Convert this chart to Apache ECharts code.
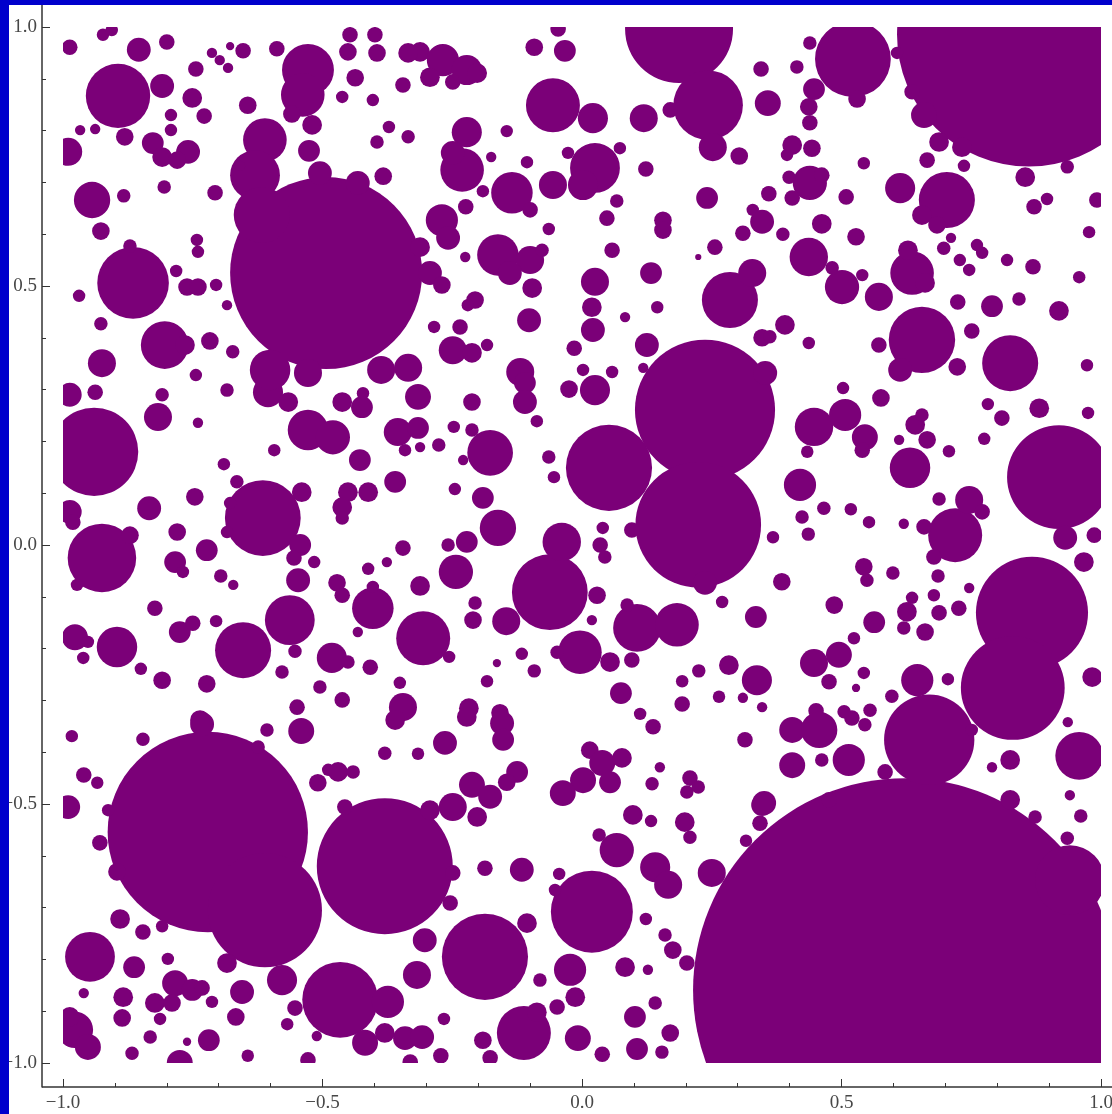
<!DOCTYPE html>
<html>
<head>
<meta charset="utf-8">
<script src="https://cdn.jsdelivr.net/npm/echarts@6/dist/echarts.min.js"></script>
<style>
  html, body { margin: 0; padding: 0; background: #ffffff; }
  #chart { width: 1112px; height: 1114px; }
</style>
</head>
<body>
<div id="chart"></div>
<script>
// Tick positions shared by both axes
const axisTicks = [-1, -0.5, 0, 0.5, 1];

// Discs as [x, y, radius] in plot units; the union of all discs is drawn.
const discsPrimary = [
  [-0.493,0.525,0.185],[0.861,0.985,0.254],[0.522,0.938,0.073],[0.187,0.996,0.104],
  [0.243,0.849,0.067],[0.119,0.824,0.027],[0.252,0.768,0.027],[0.303,0.751,0.017],
  [0.170,0.840,0.015],[-0.940,0.180,0.085],[-0.987,0.290,0.023],[-0.987,0.064,0.023],
  [-0.981,0.044,0.015],[0.052,0.149,0.083],[0.237,0.261,0.135],[0.224,0.039,0.121],
  [0.025,0.299,0.029],[0.919,0.131,0.100],[0.881,0.264,0.019],[0.975,0.255,0.012],
  [0.867,-0.131,0.108],[0.830,-0.276,0.100],[0.622,-0.859,0.408],[0.669,-0.376,0.087],
  [0.958,-0.407,0.046],[0.940,-0.647,0.067],[-0.721,-0.554,0.193],[-0.611,-0.705,0.110],
  [-0.380,-0.620,0.131],[-0.466,-0.878,0.073],[-0.374,-0.882,0.031],[-0.187,-0.795,0.083],
  [-0.062,-0.091,0.073],[-0.039,0.006,0.037],[-0.146,-0.147,0.027],[0.019,-0.708,0.079],
  [-0.023,-0.820,0.031],[-0.112,-0.942,0.052],[-0.008,-0.952,0.025],[-0.615,0.052,0.073],
  [-0.925,-0.025,0.066],[-0.948,-0.795,0.048],[-0.563,-0.145,0.048],[-0.653,-0.203,0.054],
  [-0.306,-0.180,0.052],[-0.403,-0.122,0.040],[-0.894,0.867,0.062],[-0.528,0.917,0.050],
  [-0.538,0.869,0.042],[-0.865,0.506,0.069],[-0.804,0.386,0.046],[-0.056,0.849,0.052],
  [0.285,0.473,0.054],[0.655,0.396,0.064],[0.825,0.351,0.054],[0.703,0.666,0.054],
  [0.636,0.525,0.042],[0.719,0.019,0.052],[0.632,0.149,0.039],[0.106,-0.160,0.046],
  [0.183,-0.154,0.042],[-0.004,-0.207,0.042],[-0.162,0.033,0.035],[-0.177,0.178,0.044],
  [-0.243,-0.052,0.033],[-0.135,0.680,0.040],[0.025,0.728,0.048],[-0.231,0.724,0.042],
  [-0.162,0.560,0.040]
];

const discsSecondary = [
  [0.646,-0.261,0.031],[0.420,0.116,0.031],[0.447,0.228,0.037],[0.507,0.251,0.031],
  [0.439,0.699,0.033],[0.437,0.556,0.037],[0.501,0.498,0.033],[0.613,0.689,0.029],
  [-0.222,0.797,0.029],[0.021,0.824,0.029],[0.447,-0.228,0.027],[0.495,-0.212,0.025],
  [0.067,-0.589,0.033],[0.141,-0.622,0.029],[0.166,-0.656,0.027],[0.250,-0.633,0.027],
  [-0.896,-0.197,0.039],[-0.977,-0.178,0.025],[-0.482,-0.218,0.029],[-0.345,-0.313,0.027],
  [-0.528,0.222,0.039],[-0.480,0.208,0.033],[-0.817,0.247,0.027],[-0.834,0.071,0.023],
  [-0.355,0.218,0.027],[-0.316,0.286,0.025],[-0.316,0.226,0.021],[-0.605,0.295,0.029],
  [-0.601,0.338,0.039],[-0.528,0.332,0.027],[-0.387,0.338,0.027],[-0.335,0.342,0.027],
  [-0.944,0.666,0.035],[-0.925,0.351,0.027],[-0.854,0.956,0.023],[-0.809,0.886,0.023],
  [-0.611,0.782,0.042],[-0.630,0.714,0.048],[-0.617,0.637,0.054],[-0.644,0.849,0.017],
  [-0.092,0.961,0.017],[-0.033,0.954,0.021],[-0.046,0.996,0.015],[-0.312,0.952,0.019],
  [-0.268,0.936,0.031],[-0.222,0.917,0.029],[-0.202,0.911,0.019],[-0.293,0.903,0.019],
  [-0.249,0.894,0.015],[-0.335,0.950,0.019],[-0.987,0.961,0.015],[-0.923,0.985,0.012],
  [-0.906,0.994,0.012],[-0.800,0.971,0.015],[-0.744,0.919,0.015],[-0.713,0.950,0.010],
  [-0.698,0.936,0.010],[-0.682,0.921,0.010],[-0.678,0.963,0.008],[-0.653,0.954,0.015],
  [-0.588,0.958,0.015],[-0.559,0.832,0.017],[-0.447,0.985,0.015],[-0.399,0.985,0.015],
  [-0.451,0.952,0.017],[-0.395,0.950,0.017],[-0.437,0.902,0.017],[-0.345,0.888,0.015],
  [-0.462,0.865,0.012],[-0.403,0.859,0.012],[-0.751,0.863,0.019],[-0.728,0.828,0.015],
  [-0.792,0.830,0.012],[-0.792,0.801,0.012],[-0.881,0.788,0.017],[-0.967,0.801,0.010],
  [-0.938,0.803,0.010],[-0.990,0.759,0.027],[-0.827,0.776,0.021],[-0.809,0.749,0.019],
  [-0.759,0.759,0.023],[-0.780,0.743,0.017],[-0.520,0.811,0.019],[-0.526,0.761,0.021],
  [-0.659,0.732,0.010],[-0.383,0.712,0.017],[-0.372,0.807,0.012],[-0.395,0.778,0.013],
  [-0.335,0.788,0.013],[-0.883,0.674,0.013],[-0.805,0.691,0.013],[-0.707,0.680,0.015],
  [-0.927,0.606,0.017],[-0.742,0.589,0.012],[-0.740,0.566,0.012],[-0.871,0.577,0.013],
  [-0.782,0.529,0.012],[-0.761,0.498,0.017],[-0.740,0.498,0.017],[-0.705,0.502,0.012],
  [-0.969,0.481,0.012],[-0.684,0.463,0.010],[-0.927,0.427,0.013],[-0.717,0.394,0.017],
  [-0.673,0.373,0.013],[-0.765,0.386,0.019],[-0.744,0.328,0.012],[-0.505,0.718,0.023],
  [-0.432,0.699,0.023],[-0.293,0.525,0.023],[-0.270,0.502,0.017],[-0.312,0.575,0.019],
  [0.345,0.919,0.015],[0.358,0.853,0.025],[-0.145,0.799,0.012],[-0.249,0.757,0.023],
  [-0.175,0.749,0.010],[-0.106,0.739,0.012],[-0.191,0.683,0.012],[-0.100,0.647,0.015],
  [-0.224,0.653,0.015],[-0.056,0.695,0.027],[0.002,0.695,0.029],[0.073,0.766,0.012],
  [-0.027,0.757,0.012],[0.123,0.726,0.015],[0.241,0.670,0.021],[0.067,0.664,0.013],
  [0.048,0.631,0.015],[-0.270,0.627,0.031],[-0.258,0.593,0.023],[-0.064,0.610,0.012],
  [0.156,0.627,0.017],[0.156,0.608,0.017],[0.329,0.647,0.012],[0.347,0.624,0.023],
  [0.310,0.602,0.015],[0.358,0.680,0.012],[0.256,0.575,0.015],[0.224,0.556,0.006],
  [0.058,0.569,0.015],[-0.225,0.556,0.010],[-0.100,0.550,0.027],[-0.077,0.569,0.013],
  [-0.139,0.525,0.023],[-0.096,0.496,0.019],[0.025,0.508,0.027],[0.019,0.459,0.019],
  [0.021,0.415,0.023],[0.133,0.525,0.021],[0.145,0.459,0.012],[0.083,0.440,0.010],
  [-0.206,0.473,0.017],[-0.220,0.463,0.012],[-0.102,0.434,0.023],[-0.285,0.421,0.012],
  [-0.235,0.421,0.015],[-0.249,0.376,0.027],[-0.212,0.371,0.019],[-0.183,0.386,0.012],
  [-0.015,0.380,0.015],[0.125,0.386,0.023],[0.328,0.525,0.027],[0.347,0.400,0.017],
  [-0.119,0.334,0.027],[0.002,0.338,0.012],[0.058,0.334,0.012],[0.118,0.342,0.010],
  [0.439,0.969,0.013],[0.414,0.923,0.013],[0.447,0.880,0.021],[0.437,0.846,0.017],
  [0.439,0.815,0.015],[0.530,0.861,0.017],[0.607,0.950,0.012],[0.636,0.875,0.015],
  [0.659,0.830,0.025],[0.688,0.778,0.019],[0.732,0.768,0.019],[0.854,0.710,0.019],
  [0.935,0.730,0.013],[0.665,0.743,0.015],[0.736,0.732,0.012],[0.405,0.772,0.019],
  [0.443,0.766,0.017],[0.395,0.753,0.012],[0.543,0.737,0.012],[0.399,0.710,0.013],
  [0.405,0.670,0.015],[0.462,0.714,0.015],[0.360,0.678,0.015],[0.509,0.672,0.015],
  [0.655,0.637,0.019],[0.684,0.618,0.017],[0.871,0.653,0.015],[0.896,0.668,0.012],
  [0.992,0.666,0.015],[0.462,0.620,0.019],[0.387,0.600,0.013],[0.528,0.595,0.017],
  [0.977,0.604,0.012],[0.697,0.573,0.013],[0.711,0.593,0.010],[0.761,0.579,0.012],
  [0.771,0.564,0.012],[0.728,0.550,0.012],[0.746,0.531,0.012],[0.540,0.521,0.012],
  [0.482,0.535,0.013],[0.819,0.550,0.012],[0.869,0.537,0.015],[0.958,0.517,0.012],
  [0.628,0.569,0.019],[0.572,0.479,0.027],[0.661,0.506,0.019],[0.724,0.469,0.015],
  [0.790,0.461,0.021],[0.842,0.475,0.013],[0.919,0.452,0.019],[0.391,0.425,0.019],
  [0.362,0.402,0.013],[0.437,0.390,0.012],[0.572,0.386,0.015],[0.723,0.344,0.017],
  [0.973,0.347,0.012],[0.353,0.332,0.023],[0.751,0.413,0.015],[-0.938,0.295,0.015],
  [-0.809,0.290,0.013],[-0.740,0.236,0.010],[-0.684,0.299,0.013],[-0.690,0.156,0.012],
  [-0.593,0.183,0.012],[-0.566,0.276,0.019],[-0.462,0.276,0.019],[-0.424,0.266,0.021],
  [-0.422,0.293,0.012],[-0.341,0.183,0.012],[-0.428,0.164,0.021],[-0.360,0.122,0.021],
  [-0.451,0.102,0.019],[-0.412,0.102,0.019],[-0.462,0.073,0.019],[-0.462,0.052,0.013],
  [-0.746,0.093,0.017],[-0.665,0.122,0.013],[-0.540,0.102,0.019],[-0.678,0.081,0.012],
  [-0.684,0.025,0.012],[-0.543,0.000,0.021],[-0.555,-0.025,0.015],[-0.547,-0.068,0.023],
  [-0.516,-0.033,0.012],[-0.780,0.025,0.017],[-0.723,-0.010,0.021],[-0.784,-0.033,0.021],
  [-0.769,-0.052,0.012],[-0.696,-0.060,0.013],[-0.672,-0.077,0.010],[-0.871,0.019,0.017],
  [-0.973,-0.077,0.012],[-0.472,-0.073,0.017],[-0.462,-0.097,0.015],[-0.432,-0.168,0.010],
  [-0.403,-0.081,0.012],[-0.345,-0.006,0.015],[-0.412,-0.046,0.012],[-0.376,-0.033,0.010],
  [-0.553,-0.205,0.013],[-0.823,-0.122,0.015],[-0.775,-0.168,0.021],[-0.750,-0.151,0.015],
  [-0.705,-0.147,0.012],[-0.952,-0.187,0.012],[-0.961,-0.218,0.012],[-0.850,-0.239,0.012],
  [-0.809,-0.261,0.017],[-0.723,-0.268,0.017],[-0.578,-0.245,0.013],[-0.451,-0.226,0.013],
  [-0.408,-0.236,0.015],[-0.505,-0.274,0.013],[-0.462,-0.299,0.015],[-0.549,-0.313,0.015],
  [-0.351,-0.266,0.012],[-0.736,-0.338,0.019],[-0.212,0.276,0.017],[-0.110,0.313,0.021],
  [-0.110,0.276,0.023],[-0.025,0.301,0.017],[-0.087,0.239,0.012],[-0.312,0.189,0.010],
  [-0.276,0.193,0.013],[-0.247,0.228,0.012],[-0.212,0.222,0.013],[-0.229,0.164,0.010],
  [-0.064,0.170,0.013],[-0.054,0.131,0.012],[-0.245,0.108,0.012],[-0.191,0.091,0.021],
  [-0.258,0.000,0.013],[-0.222,0.006,0.021],[-0.312,-0.079,0.019],[0.040,0.033,0.012],
  [0.035,0.000,0.015],[0.044,-0.023,0.013],[0.096,0.029,0.015],[-0.206,-0.112,0.013],
  [-0.210,-0.145,0.017],[-0.256,-0.216,0.012],[-0.164,-0.228,0.008],[-0.116,-0.210,0.012],
  [-0.092,-0.243,0.013],[-0.183,-0.263,0.012],[0.029,-0.097,0.017],[0.019,-0.145,0.010],
  [-0.048,-0.207,0.013],[0.054,-0.226,0.019],[0.087,-0.116,0.013],[0.096,-0.222,0.015],
  [0.237,-0.073,0.023],[0.270,-0.110,0.012],[0.335,-0.139,0.021],[0.075,-0.286,0.021],
  [0.193,-0.263,0.012],[0.225,-0.243,0.013],[0.283,-0.232,0.019],[0.193,-0.307,0.015],
  [0.264,-0.293,0.012],[0.337,-0.261,0.029],[0.310,-0.295,0.010],[0.347,-0.313,0.010],
  [-0.218,-0.315,0.019],[-0.158,-0.324,0.017],[0.112,-0.326,0.012],[0.503,0.303,0.012],
  [0.576,0.284,0.017],[0.613,0.338,0.023],[0.782,0.272,0.012],[0.809,0.245,0.015],
  [0.775,0.205,0.012],[0.545,0.208,0.025],[0.540,0.183,0.015],[0.434,0.180,0.012],
  [0.642,0.232,0.019],[0.655,0.251,0.013],[0.665,0.203,0.017],[0.611,0.203,0.010],
  [0.707,0.181,0.012],[0.424,0.054,0.013],[0.466,0.071,0.013],[0.518,0.069,0.012],
  [0.553,0.044,0.012],[0.436,0.021,0.013],[0.368,0.015,0.012],[0.620,0.041,0.010],
  [0.688,0.089,0.013],[0.746,0.087,0.027],[0.771,0.064,0.015],[0.659,0.035,0.015],
  [0.678,-0.023,0.015],[0.931,0.014,0.023],[0.987,0.019,0.015],[0.967,-0.033,0.019],
  [0.385,-0.071,0.017],[0.543,-0.042,0.017],[0.549,-0.068,0.013],[0.599,-0.054,0.013],
  [0.686,-0.060,0.013],[0.746,-0.083,0.010],[0.486,-0.116,0.017],[0.563,-0.149,0.021],
  [0.626,-0.129,0.019],[0.636,-0.102,0.012],[0.620,-0.160,0.013],[0.661,-0.168,0.017],
  [0.678,-0.097,0.012],[0.688,-0.131,0.015],[0.726,-0.122,0.015],[0.524,-0.180,0.012],
  [0.476,-0.264,0.015],[0.543,-0.247,0.012],[0.528,-0.276,0.008],[0.705,-0.259,0.012],
  [0.597,-0.292,0.013],[0.983,-0.255,0.019],[0.451,-0.320,0.015],[0.505,-0.322,0.013],
  [0.555,-0.319,0.013],[-0.983,-0.369,0.012],[-0.846,-0.375,0.013],[-0.732,-0.346,0.023],
  [-0.607,-0.357,0.013],[-0.541,-0.359,0.025],[-0.624,-0.390,0.013],[-0.960,-0.444,0.015],
  [-0.934,-0.459,0.012],[-0.990,-0.506,0.023],[-0.929,-0.575,0.015],[-0.913,-0.512,0.012],
  [-0.896,-0.631,0.017],[-0.509,-0.459,0.017],[-0.489,-0.434,0.012],[-0.470,-0.438,0.019],
  [-0.441,-0.438,0.013],[-0.457,-0.506,0.015],[-0.380,-0.402,0.013],[-0.360,-0.338,0.019],
  [-0.890,-0.722,0.019],[-0.846,-0.747,0.015],[-0.809,-0.736,0.012],[-0.863,-0.815,0.021],
  [-0.798,-0.799,0.012],[-0.960,-0.865,0.010],[-0.784,-0.846,0.025],[-0.751,-0.859,0.021],
  [-0.823,-0.884,0.019],[-0.790,-0.884,0.017],[-0.732,-0.855,0.015],[-0.884,-0.873,0.019],
  [-0.886,-0.913,0.017],[-0.713,-0.882,0.012],[-0.813,-0.915,0.012],[-0.667,-0.911,0.017],
  [-0.655,-0.863,0.023],[-0.578,-0.840,0.029],[-0.684,-0.807,0.019],[-0.977,-0.936,0.035],
  [-0.952,-0.969,0.025],[-0.987,-0.911,0.019],[-0.832,-0.950,0.013],[-0.867,-0.981,0.013],
  [-0.719,-0.956,0.021],[-0.761,-0.959,0.008],[-0.775,-1.000,0.025],[-0.644,-0.986,0.012],
  [-0.553,-0.894,0.015],[-0.568,-0.925,0.012],[-0.511,-0.948,0.010],[-0.418,-0.961,0.025],
  [-0.528,-0.994,0.015],[-0.380,-0.942,0.019],[-0.341,-0.952,0.023],[-0.331,-0.998,0.015],
  [-0.222,-0.332,0.019],[-0.154,-0.344,0.023],[-0.152,-0.376,0.021],[-0.264,-0.382,0.023],
  [-0.316,-0.403,0.012],[0.137,-0.351,0.015],[0.314,-0.376,0.015],[-0.125,-0.438,0.021],
  [-0.145,-0.458,0.017],[-0.212,-0.463,0.025],[-0.177,-0.486,0.023],[-0.249,-0.506,0.027],
  [-0.202,-0.525,0.019],[0.015,-0.396,0.017],[0.039,-0.421,0.025],[0.077,-0.411,0.019],
  [0.002,-0.454,0.025],[-0.037,-0.479,0.025],[0.054,-0.458,0.021],[0.150,-0.429,0.010],
  [0.135,-0.461,0.013],[0.208,-0.450,0.015],[0.224,-0.467,0.013],[0.202,-0.477,0.013],
  [0.098,-0.521,0.019],[0.133,-0.533,0.012],[0.198,-0.535,0.019],[0.208,-0.564,0.013],
  [0.316,-0.571,0.012],[0.347,-0.502,0.021],[0.343,-0.537,0.015],[0.033,-0.560,0.013],
  [-0.187,-0.624,0.015],[-0.116,-0.627,0.023],[-0.044,-0.635,0.012],[-0.052,-0.666,0.012],
  [0.123,-0.722,0.012],[0.160,-0.753,0.013],[0.175,-0.782,0.017],[0.202,-0.807,0.015],
  [0.083,-0.815,0.019],[0.127,-0.820,0.010],[-0.081,-0.840,0.013],[-0.013,-0.873,0.019],
  [0.141,-0.884,0.013],[0.102,-0.911,0.021],[0.170,-0.942,0.017],[0.106,-0.973,0.021],
  [0.154,-0.979,0.013],[-0.266,-0.915,0.012],[-0.308,-0.950,0.023],[-0.272,-0.986,0.015],
  [-0.191,-0.956,0.017],[-0.177,-0.990,0.015],[-0.087,-0.902,0.019],[-0.048,-0.892,0.015],
  [0.039,-0.983,0.015],[-0.106,-0.730,0.019],[-0.303,-0.763,0.023],[-0.318,-0.830,0.027],
  [-0.293,-0.512,0.019],[-0.249,-0.633,0.015],[-0.254,-0.691,0.015],[0.405,-0.357,0.025],
  [0.457,-0.357,0.035],[0.405,-0.425,0.025],[0.514,-0.415,0.031],[0.462,-0.415,0.013],
  [0.520,-0.334,0.015],[0.545,-0.347,0.013],[0.584,-0.438,0.015],[0.751,-0.357,0.012],
  [0.825,-0.415,0.019],[0.790,-0.429,0.010],[0.936,-0.342,0.010],[0.940,-0.483,0.010],
  [0.961,-0.523,0.013],[0.351,-0.498,0.023],[0.825,-0.492,0.019],[0.873,-0.525,0.013],
  [0.935,-0.566,0.013],[0.476,-0.492,0.015]
];

const discColor = '#7b0078';
const labelColor = '#474747';
const axisColor = '#333333';

const allDiscs = discsPrimary.concat(discsSecondary);

// Mathematica-style labels: one decimal, typographic minus
function tickLabel(v) {
  if (!axisTicks.some(t => Math.abs(t - v) < 1e-9)) return '';
  return (v < 0 ? '\u2212' : '') + Math.abs(v).toFixed(1);
}

function renderDisc(params, api) {
  const c = api.coord([api.value(0), api.value(1)]);
  const r = api.size([api.value(2), 0])[0];
  return {
    type: 'circle',
    shape: { cx: c[0], cy: c[1], r: r },
    style: { fill: discColor }
  };
}

const chart = echarts.init(document.getElementById('chart'), null, { renderer: 'canvas' });

const axisCommon = {
  type: 'value',
  min: -1,
  max: 1,
  interval: 0.5,
  splitLine: { show: false },
  axisLine: { show: false, onZero: false },
  axisTick: { show: true, inside: true, length: 8, lineStyle: { color: axisColor, width: 1 } },
  minorTick: { show: true, splitNumber: 5, length: 4, lineStyle: { color: axisColor, width: 1 } },
  minorSplitLine: { show: false }
};

chart.setOption({
  animation: false,
  backgroundColor: '#ffffff',
  grid: { left: 63, right: 11, top: 27, bottom: 51, outerBoundsMode: 'none' },
  xAxis: Object.assign({}, axisCommon, {
    offset: 24,
    axisLabel: {
      formatter: tickLabel, margin: 7, color: labelColor,
      fontFamily: 'Liberation Serif', fontSize: 19
    }
  }),
  yAxis: Object.assign({}, axisCommon, {
    offset: 21,
    axisLabel: {
      formatter: tickLabel, margin: 5, color: labelColor,
      fontFamily: 'Liberation Serif', fontSize: 19
    }
  }),
  series: [{
    type: 'custom',
    clip: true,
    renderItem: renderDisc,
    dimensions: ['x', 'y', 'r'],
    encode: { x: 0, y: 1 },
    data: allDiscs,
    silent: true
  }],
  graphic: [
    { type: 'line', z: 50, shape: { x1: 42, y1: 5, x2: 42, y2: 1087.5 }, style: { stroke: axisColor, lineWidth: 1.5 } },
    { type: 'line', z: 50, shape: { x1: 42, y1: 1087, x2: 1112, y2: 1087 }, style: { stroke: axisColor, lineWidth: 1.5 } },
    { type: 'rect', z: 100, shape: { x: 0, y: 0, width: 9, height: 1114 }, style: { fill: '#0000cc' } },
    { type: 'rect', z: 100, shape: { x: 0, y: 0, width: 1112, height: 5 }, style: { fill: '#0000cc' } }
  ]
});
</script>
</body>
</html>
